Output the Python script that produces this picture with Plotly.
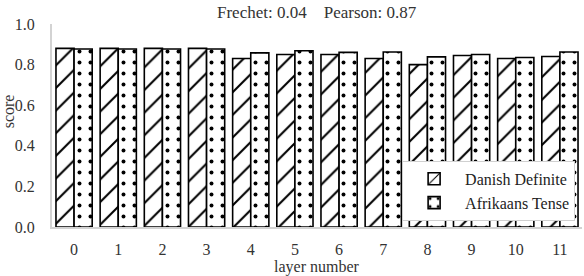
import plotly.graph_objects as go

layers = [str(i) for i in range(12)]
danish = [0.88, 0.88, 0.88, 0.88, 0.83, 0.85, 0.85, 0.83, 0.80, 0.845, 0.83, 0.84]
afrikaans = [0.877, 0.877, 0.877, 0.877, 0.858, 0.868, 0.86, 0.862, 0.838, 0.85, 0.835, 0.862]
yticks = [0.0, 0.2, 0.4, 0.6, 0.8, 1.0]
title_text = "Frechet: 0.04    Pearson: 0.87"

FONT = "Liberation Serif, Times New Roman, serif"

fig = go.Figure()
fig.add_trace(go.Bar(
    x=layers, y=danish, name="Danish Definite",
    marker=dict(color="white", line=dict(color="black", width=1.6),
                pattern=dict(shape="/", fgcolor="black", bgcolor="white", size=16,
                             solidity=0.13, fgopacity=1)),
))
fig.add_trace(go.Bar(
    x=layers, y=afrikaans, name="Afrikaans Tense",
    marker=dict(color="white", line=dict(color="black", width=1.6),
                pattern=dict(shape=".", fgcolor="black", bgcolor="white", size=11,
                             solidity=0.1, fgopacity=1)),
))

fig.update_layout(
    width=584, height=276,
    margin=dict(l=52, r=2, t=24, b=49),
    paper_bgcolor="white", plot_bgcolor="white",
    font=dict(family=FONT, size=16, color="#333333"),
    barmode="group", bargap=0.18, bargroupgap=0.0,
    showlegend=True,
    legend=dict(
        x=0.987, y=0.03, xanchor="right", yanchor="bottom",
        bgcolor="white", bordercolor="#d0d0d0", borderwidth=1,
        font=dict(family=FONT, size=16, color="#222222"),
        tracegroupgap=0, itemwidth=52,
    ),
    xaxis=dict(
        showline=True, linecolor="#d3d3d3", linewidth=2,
        showgrid=False, ticks="", ticklabelstandoff=7,
        tickfont=dict(family=FONT, size=16, color="#333333"),
    ),
    yaxis=dict(
        range=[0, 1.0], tickvals=yticks, ticktext=[f"{v:.1f}" for v in yticks],
        showline=True, linecolor="#d3d3d3", linewidth=2,
        showgrid=False, zeroline=False, ticks="", ticklabelstandoff=12,
        tickfont=dict(family=FONT, size=16, color="#333333"),
    ),
    annotations=[
        dict(text=title_text, xref="paper", yref="paper", x=0.5, y=1.0,
             yshift=12, showarrow=False, xanchor="center", yanchor="middle",
             font=dict(family=FONT, size=17, color="#333333")),
        dict(text="layer number", xref="paper", yref="paper", x=0.5, y=0,
             yshift=-40, showarrow=False, xanchor="center", yanchor="middle",
             font=dict(family=FONT, size=16, color="#333333")),
        dict(text="score", xref="paper", yref="paper", x=0, y=0.57,
             xshift=-44, showarrow=False, textangle=-90,
             xanchor="center", yanchor="middle",
             font=dict(family=FONT, size=16, color="#333333")),
    ],
)

fig.write_html("out.html",
               config={"displayModeBar": False},
               post_script="document.body.style.margin='0';document.body.style.overflow='hidden';")
